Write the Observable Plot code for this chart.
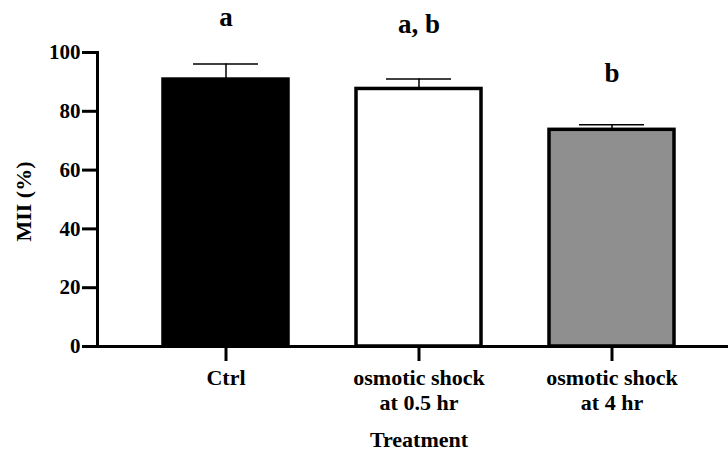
<!DOCTYPE html>
<html><head><meta charset="utf-8">
<script src="https://cdn.jsdelivr.net/npm/d3@7"></script>
<script src="https://cdn.jsdelivr.net/npm/@observablehq/plot@0.6"></script>
<style>
body{margin:0;background:#fff}
#chart svg, #chart svg text, #chart svg tspan { font-family: "Liberation Serif", "Times New Roman", serif !important; font-weight: bold; }
</style>
</head><body><div id="chart"></div>
<script>
const treatments = ["Ctrl", "osmotic shock\nat 0.5 hr", "osmotic shock\nat 4 hr"];
const means = [90.8, 87.6, 73.7];
const sems = [5.3, 3.4, 1.7];
const letters = ["a", "a, b", "b"];
const letterY = [109, 106.8, 89.8];
const yTicks = [0, 20, 40, 60, 80, 100];
const barColors = ["#000000", "#ffffff", "#8f8f8f"];
const yLabel = "MII (%)";
const xLabel = "Treatment";

const data = treatments.map((t, i) => ({
  treatment: t, mean: means[i], top: means[i] + sems[i], letter: letters[i], ly: letterY[i]
}));
const font = "Liberation Serif";
const chart = Plot.plot({
  width: 728, height: 453,
  marginLeft: 97, marginRight: 0, marginTop: 52, marginBottom: 107,
  style: {fontFamily: font, fontWeight: "bold", color: "black", background: "white", fontSize: "21px"},
  x: {domain: treatments, range: [95, 742], padding: 0.352, label: null},
  y: {domain: [0, 100], label: null},
  color: {domain: treatments, range: barColors},
  marks: [
    Plot.ruleX(data, {x: "treatment", y1: "mean", y2: "top", strokeWidth: 1.5}),
    Plot.tickY(data, {x: "treatment", y: "top", strokeWidth: 1.5, insetLeft: 30, insetRight: 30}),
    Plot.barY(data, {x: "treatment", y: "mean", fill: "treatment", stroke: "black", strokeWidth: 3.5}),
    Plot.frame({anchor: "left", strokeWidth: 3}),
    Plot.ruleY([0], {strokeWidth: 3}),
    Plot.axisY({ticks: yTicks, tickFormat: d => String(d), tickSize: 15, strokeWidth: 3, tickPadding: 2, fontSize: 21, fontFamily: font, fontWeight: "bold", label: null}),
    Plot.axisX({tickSize: 15, strokeWidth: 3, tickPadding: 6, fontSize: 22, fontFamily: font, fontWeight: "bold", lineHeight: 1.14, label: null}),
    Plot.text(data, {x: "treatment", y: "ly", text: "letter", lineAnchor: "bottom", fontSize: 27, fontFamily: font, fontWeight: "bold"}),
    Plot.text([yLabel], {text: d => d, frameAnchor: "left", textAnchor: "middle", lineAnchor: "middle", rotate: -90, dx: -74, dy: 2, fontSize: 22, fontFamily: font, fontWeight: "bold"}),
    Plot.text([xLabel], {text: d => d, frameAnchor: "bottom", textAnchor: "middle", lineAnchor: "bottom", dx: 6, dy: 100, fontSize: 22, fontFamily: font, fontWeight: "bold"})
  ]
});
document.getElementById("chart").appendChild(chart);
</script>
</body></html>
